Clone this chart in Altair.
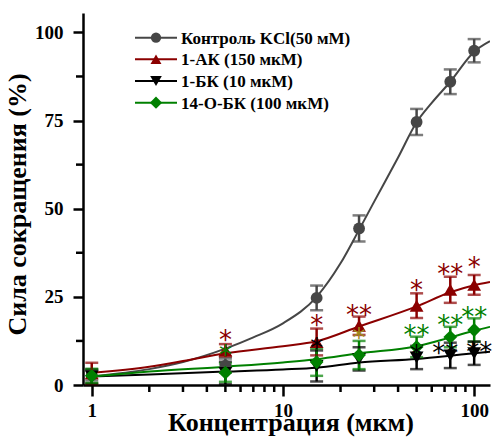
import altair as alt
import pandas as pd

# Concentrations (µM) at which contraction force was measured
conc = [1, 5, 15, 25, 50, 75, 100]

series_names = ["Контроль KCl(50 мМ)", "1-АК (150 мкМ)", "1-БК (10 мкМ)", "14-О-БК (100 мкМ)"]
series_colors = ["#464646", "#8b0000", "#000000", "#008000"]
series_shapes = ["circle", "triangle-up", "triangle-down", "diamond"]
series_sizes = [140, 190, 190, 190]
legend_sizes = [105, 150, 150, 150]

# Mean contraction force (%) and error for each series
kcl_mean = [2.8, 5.5, 24.7, 44.4, 74.6, 86.0, 94.8]
kcl_err = [1.5, 2.0, 3.5, 3.7, 3.7, 3.5, 3.3]
ak_mean = [3.3, 9.8, 12.2, 16.8, 22.5, 27.0, 28.4]
ak_err = [3.0, 1.8, 3.8, 2.6, 3.5, 3.7, 2.8]
bk_mean = [2.4, 3.4, 5.4, 7.4, 7.8, 8.4, 9.0]
bk_err = [2.0, 3.2, 4.4, 3.3, 3.3, 3.6, 3.3]
obk_mean = [2.6, 3.5, 6.5, 8.5, 10.8, 13.6, 15.6]
obk_err = [2.0, 2.6, 3.9, 4.0, 2.9, 2.9, 3.3]

# Fitted concentration-response curves
kcl_fit_x = [1, 2, 3, 5, 7, 10, 15, 20, 25, 30, 40, 50, 60, 75, 100, 121]
kcl_fit_y = [2.5, 4.5, 6.5, 10.3, 13.5, 17.5, 25.0, 34.5, 44.0, 52.0, 64.5, 74.5, 80.0, 86.0, 94.5, 97.5]
ak_fit_x = [1, 2, 3, 5, 10, 15, 25, 50, 75, 100, 121]
ak_fit_y = [3.5, 5.2, 6.8, 9.0, 11.0, 12.4, 16.6, 22.3, 26.3, 28.3, 29.2]
bk_fit_x = [1, 5, 10, 15, 25, 50, 75, 100, 121]
bk_fit_y = [2.4, 3.8, 4.4, 4.9, 6.4, 7.4, 8.3, 9.0, 9.4]
obk_fit_x = [1, 2, 5, 10, 15, 25, 50, 75, 100, 121]
obk_fit_y = [2.4, 3.8, 5.2, 6.4, 7.3, 9.0, 11.0, 13.5, 15.4, 16.5]

# Significance marks
star_conc = [5, 15, 25, 50, 75, 100, 5, 50, 75, 100, 25, 15, 50, 75, 100]
star_level = [14.2, 18.4, 21.2, 28.3, 33.0, 34.8, 9.8, 15.6, 18.4, 20.7, 14.7, 11.9, 9.9, 10.5, 10.8]
star_text = ["*", "*", "**", "*", "**", "*", "*", "**", "**", "**", "*", "*", "*", "**", "**"]
star_color = ["#8b0000"] * 6 + ["#008000"] * 4 + ["#9e8c1a"] + ["#000000"] * 4
star_shift = [0] * 13 + [-5, 5]

# Axis ticks
x_major = [1, 10, 100]
x_minor = [2, 3, 4, 5, 6, 7, 8, 9, 20, 30, 40, 50, 60, 70, 80, 90]
y_major = [0, 25, 50, 75, 100]
y_minor = [12.5, 37.5, 62.5, 87.5]

means = [kcl_mean, ak_mean, bk_mean, obk_mean]
errs = [kcl_err, ak_err, bk_err, obk_err]
fits = [(kcl_fit_x, kcl_fit_y), (ak_fit_x, ak_fit_y), (bk_fit_x, bk_fit_y), (obk_fit_x, obk_fit_y)]

pts = pd.DataFrame([
    {"series": s, "order": i, "x": c, "y": m, "lo": m - e, "hi": m + e}
    for i, s in enumerate(series_names)
    for c, m, e in zip(conc, means[i], errs[i])
])
curves = pd.DataFrame([
    {"series": s, "order": i, "x": fx, "y": fy}
    for i, s in enumerate(series_names)
    for fx, fy in zip(*fits[i])
])
stars = pd.DataFrame({"x": star_conc, "y": star_level, "t": star_text,
                      "c": star_color, "shift": star_shift})
xminor_df = pd.DataFrame({"x": x_minor})
yminor_df = pd.DataFrame({"y": y_minor})
legend_df = pd.DataFrame({"series": series_names})

FONT = "Liberation Serif"
W, H = 407, 372

x_scale = alt.Scale(type="log", domain=[0.9, 121], nice=False)
y_scale = alt.Scale(domain=[0, 105.5], nice=False)
color_scale = alt.Scale(domain=series_names, range=series_colors)

x_axis = alt.Axis(
    values=x_major, title="Концентрация (мкм)", format="d",
    labelFlush=False, labelOverlap=False, grid=False,
    tickSize=11, labelPadding=5,
    titleBaseline="alphabetic", titleY=45, titleX=W / 2 + 4,
)
y_axis = alt.Axis(
    values=y_major, title="Сила сокращения (%)", format="d",
    labelOverlap=False, grid=False, tickSize=10, labelPadding=10,
    titleAngle=-90, titleBaseline="middle", titleAlign="center", titleX=-66, titleY=H / 2 + 5,
)

X = lambda f: alt.X(f, scale=x_scale, axis=x_axis)
Y = lambda f: alt.Y(f, scale=y_scale, axis=y_axis)

# minor ticks drawn outside the plot area along both axes
x_minor_ticks = alt.Chart(xminor_df).mark_rule(strokeWidth=2.5, color="black").encode(
    x=X("x:Q"), y=alt.value(H), y2=alt.value(H + 7),
)
y_minor_ticks = alt.Chart(yminor_df).mark_rule(strokeWidth=2.5, color="black").encode(
    y=Y("y:Q"), x=alt.value(-7), x2=alt.value(0),
)

lines = alt.Chart(curves).mark_line(interpolate="monotone", strokeWidth=2, clip=True).encode(
    x=X("x:Q"), y=Y("y:Q"),
    color=alt.Color("series:N", scale=color_scale, legend=None),
    order="order:Q",
)

bars = alt.Chart(pts).mark_rule(strokeWidth=2.5).encode(
    x=X("x:Q"), y=Y("lo:Q"), y2="hi:Q",
    color=alt.Color("series:N", scale=color_scale, legend=None),
)
cap_lo = alt.Chart(pts).mark_tick(orient="horizontal", size=13, thickness=2.5).encode(
    x=X("x:Q"), y=Y("lo:Q"),
    color=alt.Color("series:N", scale=color_scale, legend=None),
)
cap_hi = alt.Chart(pts).mark_tick(orient="horizontal", size=13, thickness=2.5).encode(
    x=X("x:Q"), y=Y("hi:Q"),
    color=alt.Color("series:N", scale=color_scale, legend=None),
)

marker_layers = [
    alt.Chart(pts).transform_filter(alt.datum.series == s).mark_point(
        filled=True, opacity=1, shape=shp, size=sz,
    ).encode(
        x=X("x:Q"), y=Y("y:Q"),
        color=alt.Color("series:N", scale=color_scale, legend=None),
    )
    for s, shp, sz in zip(series_names, series_shapes, series_sizes)
]

def star_layer(shift):
    return alt.Chart(stars).transform_filter(alt.datum.shift == shift).mark_text(
        font="DejaVu Sans", fontSize=26, baseline="alphabetic", dy=14, dx=shift,
    ).encode(
        x=X("x:Q"), y=Y("y:Q"),
        text="t:N",
        color=alt.Color("c:N", scale=None),
    )

main = alt.layer(
    x_minor_ticks, y_minor_ticks, lines, bars, cap_lo, cap_hi, *marker_layers,
    star_layer(0), star_layer(-5), star_layer(5)
)

# legend: one row per series, a line segment with the marker and the label
row_y = alt.Y("series:N", axis=None,
              scale=alt.Scale(type="point", domain=series_names, range=[24.7, 89.7], padding=0))
leg_line = alt.Chart(legend_df).mark_rule(strokeWidth=2).encode(
    y=row_y, x=alt.value(52), x2=alt.value(94),
    color=alt.Color("series:N", scale=color_scale, legend=None),
)
leg_mark = alt.Chart(legend_df).mark_point(filled=True, opacity=1).encode(
    y=row_y, x=alt.value(73),
    color=alt.Color("series:N", scale=color_scale, legend=None),
    shape=alt.Shape("series:N", scale=alt.Scale(domain=series_names, range=series_shapes), legend=None),
    size=alt.Size("series:N", scale=alt.Scale(domain=series_names, range=legend_sizes), legend=None),
)
leg_text = alt.Chart(legend_df).mark_text(
    align="left", baseline="middle", font=FONT, fontSize=17, fontWeight="bold", color="black", dy=1,
).encode(y=row_y, x=alt.value(98), text="series:N")
legend_block = alt.layer(leg_line, leg_mark, leg_text)

chart = alt.layer(main, legend_block).resolve_scale(y="independent").properties(
    width=W, height=H, background="white",
    autosize=alt.AutoSizeParams(type="none"),
    padding={"left": 83, "top": 13, "right": 6, "bottom": 56},
).configure_view(stroke=None).configure_axis(
    domainColor="black", domainWidth=2.5, tickColor="black", tickWidth=2.5,
    labelFont=FONT, labelFontSize=19, labelFontWeight="bold", labelColor="black",
    titleFont=FONT, titleFontSize=26, titleFontWeight="bold", titleColor="black",
)

chart.save("out.html", embed_options={"renderer": "svg", "actions": False})
